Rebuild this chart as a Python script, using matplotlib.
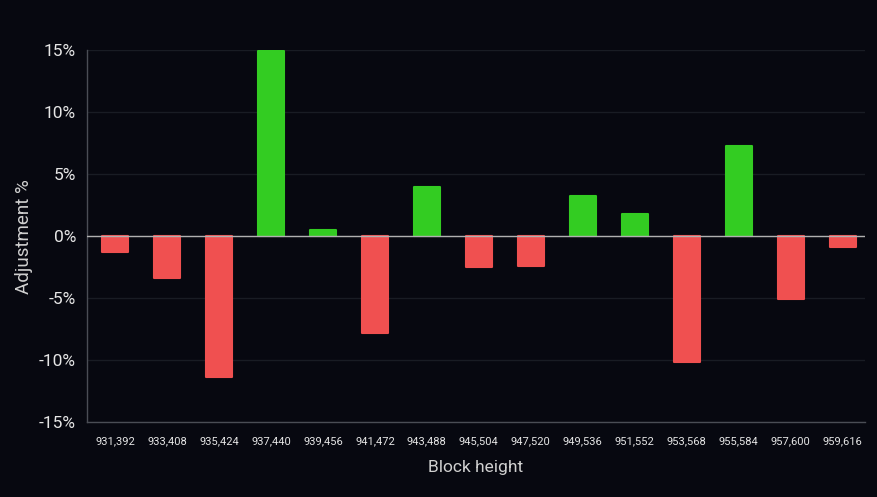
import matplotlib.pyplot as plt
import numpy as np

plt.rcParams['font.family'] = ['Roboto', 'DejaVu Sans']

# block heights at each difficulty adjustment and the change in %
blocks = ["931,392", "933,408", "935,424", "937,440", "939,456", "941,472",
          "943,488", "945,504", "947,520", "949,536", "951,552", "953,568",
          "955,584", "957,600", "959,616"]
adjust = [-1.3, -3.4, -11.4, 14.9, 0.5, -7.8, 4.0, -2.5, -2.4, 3.2, 1.8,
          -10.2, 7.3, -5.1, -0.9]

bg = "#070810"
green = "#33cc22"
red = "#f05050"

fig = plt.figure(figsize=(8.77, 4.97), dpi=100, facecolor=bg)
ax = fig.add_axes([0.0992, 0.151, 0.887, 0.748], facecolor=bg)

x = np.arange(len(blocks))
cols = [green if v >= 0 else red for v in adjust]
ax.bar(x, adjust, width=0.5, color=cols, edgecolor=cols, linewidth=1.5,
       joinstyle="round", zorder=2)

# zero line
ax.axhline(0, color="#b0b0b0", linewidth=1, zorder=3)

ax.set_xlim(-0.54, 14.43)
ax.set_ylim(-15, 15)
yt = [-15, -10, -5, 0, 5, 10, 15]
ax.set_yticks(yt)
ax.set_yticklabels([f"{v}%" for v in yt])
ax.set_xticks(x)
ax.set_xticklabels(blocks)

ax.grid(axis="y", color="#191c24", linewidth=1, zorder=0)
ax.tick_params(axis="y", colors="#e6e6e6", labelsize=12.5, length=0, pad=8)
ax.tick_params(axis="x", colors="#e6e6e6", labelsize=8, length=0, pad=10)

for s in ["top", "right"]:
    ax.spines[s].set_visible(False)
for s in ["left", "bottom"]:
    ax.spines[s].set_color("#4a4d55")
    ax.spines[s].set_linewidth(1)

ax.set_xlabel("Block height", color="#d0d0d0", fontsize=12.5, labelpad=10)
ax.set_ylabel("Adjustment %", color="#d0d0d0", fontsize=13.5, labelpad=4)

fig.savefig("out.png", dpi=100, facecolor=bg)
